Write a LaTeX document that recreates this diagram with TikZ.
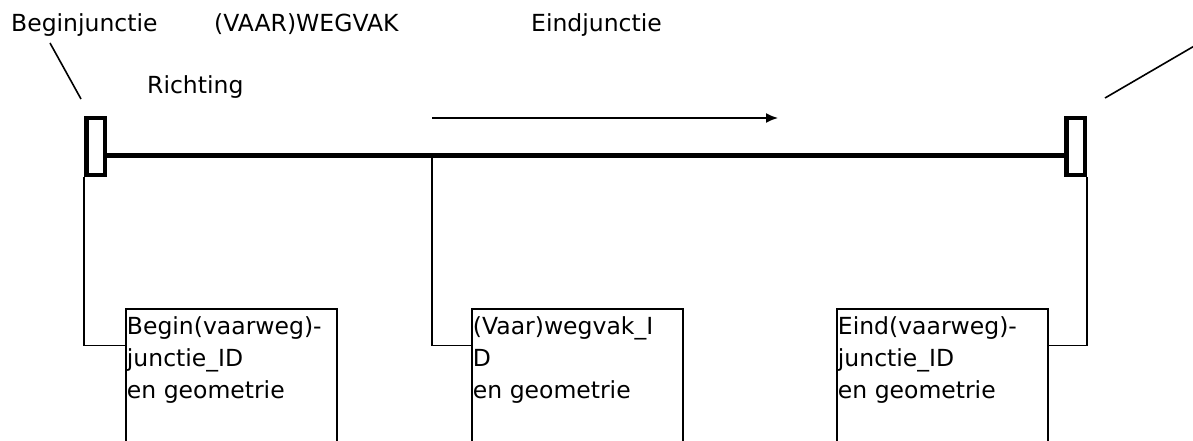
\documentclass[tikz,border=0pt]{standalone}
\usepackage{fontspec}
\setmainfont{DejaVu Sans}
\usetikzlibrary{arrows.meta,calc}
\begin{document}
\begin{tikzpicture}[x=1pt,y=-1pt,
  lbl/.style={inner sep=0pt,anchor=base west,font=\fontsize{23.5}{32}\selectfont},
  junc/.style={draw,line width=4.5pt,inner sep=0pt,minimum width=18.5pt,minimum height=56.5pt},
  infobox/.style={draw,line width=1.8pt,inner sep=0pt,minimum width=211pt,minimum height=160pt,anchor=north west},
  boxtext/.style={inner sep=0pt,anchor=north west,align=left,font=\fontsize{23.5}{32}\selectfont},
  thin/.style={line width=1.6pt},
  road/.style={line width=5pt}]
\useasboundingbox (0,0) rectangle (1193,441);
\clip (0,0) rectangle (1193,441);
\fill[white] (0,0) rectangle (1193,441);
% labels
\node[lbl] (tbeg) at (11,32) {Beginjunctie};
\node[lbl] (tweg) at (214,32) {(VAAR)WEGVAK};
\node[lbl] (teind) at (531,32) {Eindjunctie};
\node[lbl] (trich) at (147,94) {Richting};
% junctions
\node[junc] (jb) at (95.5,146.5) {};
\node[junc] (je) at (1075.5,146.5) {};
\coordinate (ml) at (0,155);
\draw[road] (jb.east |- ml) -- (je.west |- ml);
% direction arrow
\coordinate (a1) at (432,118);
\coordinate (a2) at (778,118);
\draw[thin,-{Latex[length=12pt,width=10pt]}] (a1) -- (a2);
% diagonal pointers
\coordinate (d1a) at (50,43);
\coordinate (d1b) at (81,99);
\draw[thin] (d1a) -- (d1b);
\coordinate (d2a) at (1105,98);
\coordinate (d2b) at (1196,45);
\draw[thin] (d2a) -- (d2b);
% boxes
\node[infobox] (b1) at (124.75,307.75) {};
\node[infobox] (b2) at (470.75,307.75) {};
\node[infobox] (b3) at (835.75,307.75) {};
\node[boxtext] (t1) at ($(b1.north west)+(2,9)$) {Begin(vaarweg)-\\junctie\_ID\\en geometrie};
\node[boxtext] (t2) at ($(b2.north west)+(2,9)$) {(Vaar)wegvak\_I\\D\\en geometrie};
\node[boxtext] (t3) at ($(b3.north west)+(2,9)$) {Eind(vaarweg)-\\junctie\_ID\\en geometrie};
% connectors
\coordinate (cy) at (0,345.5);
\coordinate (br) at (432,155);
\draw[thin] (jb.south west) |- (b1.west |- cy);
\draw[thin] (br) |- (b2.west |- cy);
\draw[thin] (je.south east) |- (b3.east |- cy);
\end{tikzpicture}
\end{document}
